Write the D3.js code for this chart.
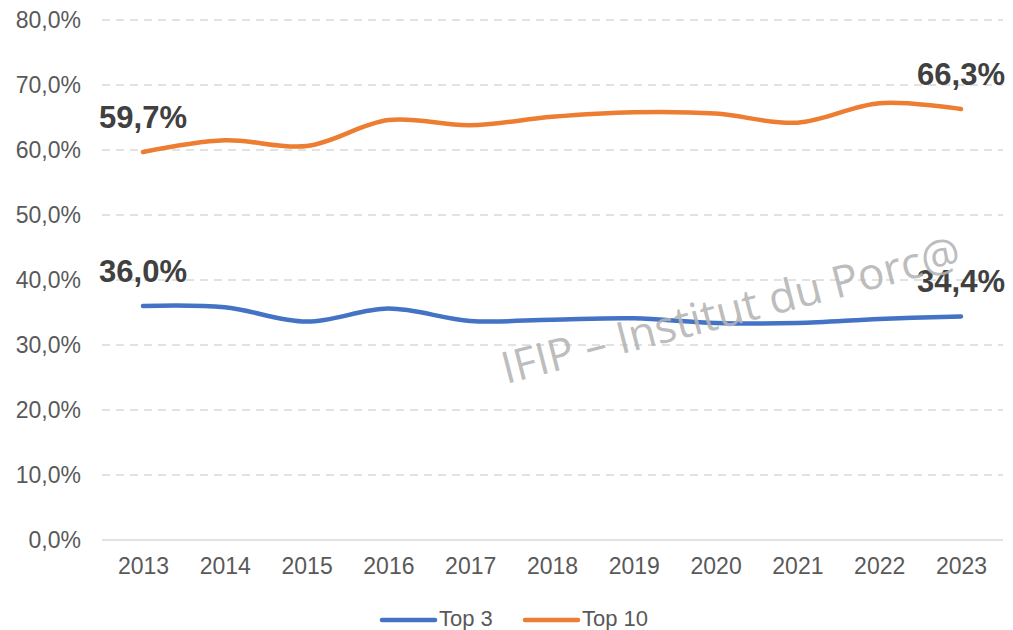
<!DOCTYPE html>
<html>
<head>
<meta charset="utf-8">
<script src="https://cdn.jsdelivr.net/npm/d3@7"></script>
<style>
  body { margin: 0; background: #fff; }
  text { font-family: "Liberation Sans", Arial, sans-serif; }
</style>
</head>
<body>
<script>
// chart data
var years = ['2013','2014','2015','2016','2017','2018','2019','2020','2021','2022','2023'];
var top3  = [36.0, 35.8, 33.6, 35.6, 33.7, 33.9, 34.1, 33.4, 33.4, 34.0, 34.4];
var top10 = [59.7, 61.5, 60.6, 64.6, 63.8, 65.1, 65.8, 65.6, 64.2, 67.2, 66.3];
var yTicks = [0, 10, 20, 30, 40, 50, 60, 70, 80];
var seriesNames = ['Top 3', 'Top 10'];
var seriesColors = ['#4472c4', '#ed7d31'];

var W = 1013, H = 630;
var margin = { top: 20, right: 10, bottom: 90, left: 102 };

var svg = d3.select("body").append("svg")
    .attr("width", W)
    .attr("height", H);

var x = d3.scalePoint()
    .domain(years)
    .range([143, 961]);

var y = d3.scaleLinear()
    .domain([0, 80])
    .range([540, 20]);

var fmt = function(v) { return v.toFixed(1).replace('.', ',') + '%'; };

// gridlines
svg.append("g").selectAll("line")
  .data(yTicks)
  .enter().append("line")
  .attr("x1", margin.left)
  .attr("x2", W - margin.right)
  .attr("y1", function(d) { return y(d); })
  .attr("y2", function(d) { return y(d); })
  .attr("stroke", "#d9d9d9")
  .attr("stroke-width", 1.3)
  .attr("stroke-dasharray", function(d) { return d === 0 ? null : "8,6"; });

// y axis labels
var yAxis = svg.append("g")
  .attr("transform", "translate(81,0)")
  .call(d3.axisLeft(y).tickValues(yTicks).tickSize(0).tickPadding(0).tickFormat(fmt));
yAxis.select(".domain").remove();
yAxis.selectAll("text")
  .attr("font-size", "23px")
  .attr("fill", "#595959")
  .style("font-family", "Liberation Sans, Arial, sans-serif");

// x axis labels
var xAxis = svg.append("g")
  .attr("transform", "translate(0,558)")
  .call(d3.axisBottom(x).tickSize(0).tickPadding(0));
xAxis.select(".domain").remove();
xAxis.selectAll("text")
  .attr("font-size", "23px")
  .attr("fill", "#595959")
  .style("font-family", "Liberation Sans, Arial, sans-serif");

// lines
var line = d3.line()
  .x(function(d, i) { return x(years[i]); })
  .y(function(d) { return y(d); })
  .curve(d3.curveCatmullRom.alpha(0.5));

[top3, top10].forEach(function(s, k) {
  svg.append("path")
    .datum(s)
    .attr("d", line)
    .attr("fill", "none")
    .attr("stroke", seriesColors[k])
    .attr("stroke-width", 4.5)
    .attr("stroke-linecap", "round");
});

// end labels
[top3, top10].forEach(function(s) {
  var last = s.length - 1;
  [0, last].forEach(function(i) {
    svg.append("text")
      .attr("x", x(years[i]))
      .attr("y", y(s[i]) - 24)
      .attr("text-anchor", "middle")
      .attr("font-size", "31px")
      .attr("font-weight", "bold")
      .attr("fill", "#404040")
      .text(fmt(s[i]));
  });
});

// watermark (sits over the last label like in the original)
svg.append("text")
  .attr("transform", "translate(506,384) rotate(-14.5)")
  .style("font-family", "'Open Sans', sans-serif")
  .attr("font-size", "44px")
  .attr("fill", "#b4b4b4")
  .attr("fill-opacity", 0.9)
  .text("IFIP \u2013 Institut du Porc@");

// legend
var legendX = [382, 525];
seriesNames.forEach(function(n, k) {
  svg.append("line")
    .attr("x1", legendX[k]).attr("x2", legendX[k] + 53)
    .attr("y1", 620).attr("y2", 620)
    .attr("stroke", seriesColors[k])
    .attr("stroke-width", 4.5)
    .attr("stroke-linecap", "round");
  svg.append("text")
    .attr("x", legendX[k] + 57)
    .attr("y", 626)
    .attr("font-size", "22px")
    .attr("fill", "#595959")
    .text(n);
});
</script>
</body>
</html>
